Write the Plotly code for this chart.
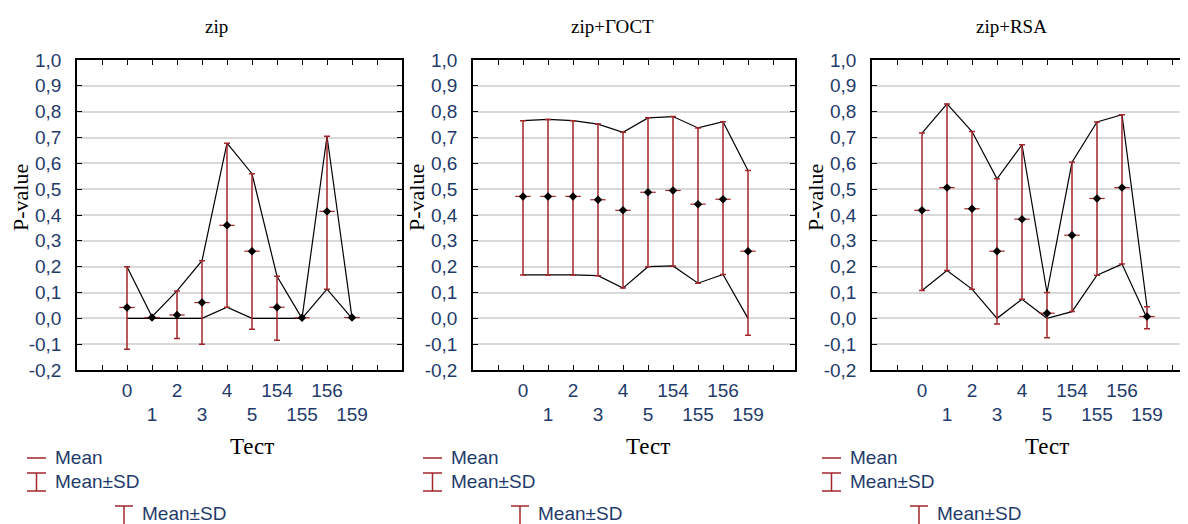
import plotly.graph_objects as go

# ---------------- data ----------------
tests = ["0", "1", "2", "3", "4", "5", "154", "155", "156", "159"]
panel_titles = ["zip", "zip+ГОСТ", "zip+RSA"]

zip_mean = [0.042, 0.003, 0.013, 0.061, 0.360, 0.260, 0.043, 0.002, 0.414, 0.003]
zip_hi = [0.200, 0.006, 0.106, 0.223, 0.678, 0.560, 0.163, 0.000, 0.705, 0.003]
zip_lo = [-0.120, 0.000, -0.078, -0.100, 0.043, -0.042, -0.085, 0.000, 0.113, 0.000]

gost_mean = [0.472, 0.472, 0.472, 0.459, 0.418, 0.488, 0.495, 0.442, 0.461, 0.260]
gost_hi = [0.765, 0.770, 0.765, 0.752, 0.720, 0.776, 0.781, 0.737, 0.761, 0.572]
gost_lo = [0.168, 0.168, 0.168, 0.165, 0.117, 0.200, 0.203, 0.136, 0.170, -0.065]

rsa_mean = [0.418, 0.506, 0.424, 0.260, 0.384, 0.020, 0.322, 0.464, 0.506, 0.007]
rsa_hi = [0.717, 0.830, 0.723, 0.540, 0.672, 0.100, 0.604, 0.760, 0.788, 0.045]
rsa_lo = [0.108, 0.185, 0.113, -0.022, 0.074, -0.075, 0.026, 0.167, 0.210, -0.040]

y_tickvals = [-0.2, -0.1, 0.0, 0.1, 0.2, 0.3, 0.4, 0.5, 0.6, 0.7, 0.8, 0.9, 1.0]
y_ticktext = ["-0,2", "-0,1", "0,0", "0,1", "0,2", "0,3", "0,4", "0,5",
              "0,6", "0,7", "0,8", "0,9", "1,0"]

x_title = "Тест"
y_title = "P-value"
legend_mean = "Mean"
legend_sd = "Mean±SD"

# ---------------- style ----------------
OFF = 8                      # page body margin of the browser
W, H = 1188 - OFF, 524 - OFF  # figure size actually visible
RED = "#a3262a"
NAVY = "#1f3b6b"
SANS = "Liberation Sans, Arial, sans-serif"
SERIF = "Liberation Serif, Times New Roman, serif"

panels = [
    (zip_mean, zip_hi, zip_lo),
    (gost_mean, gost_hi, gost_lo),
    (rsa_mean, rsa_hi, rsa_lo),
]
# plot-area pixel boxes in screenshot coordinates (left, right)
boxes = [(77, 402), (473, 795), (872, 1188)]
TOP, BOT = 60, 370
UNIT = 25.0


def px(x):
    return min(1.0, (x - OFF) / W)


def py(y):
    return 1 - (y - OFF) / H


fig = go.Figure()
idx = list(range(len(tests)))
x_tickvals = [-1] + idx + [len(tests)]
x_ticktext = [""] + [("<br>" + t if i % 2 else t) for i, t in enumerate(tests)] + [""]

annotations = []
shapes = []

for p, (mean, hi, lo) in enumerate(panels):
    n = p + 1
    xa = "x" if n == 1 else f"x{n}"
    ya = "y" if n == 1 else f"y{n}"
    lo_line = [max(v, 0.0) for v in lo]

    fig.add_trace(go.Scatter(x=idx, y=hi, mode="lines", xaxis=xa, yaxis=ya,
                             line=dict(color="black", width=1.2),
                             showlegend=False, hoverinfo="skip"))
    fig.add_trace(go.Scatter(x=idx, y=lo_line, mode="lines", xaxis=xa, yaxis=ya,
                             line=dict(color="black", width=1.2),
                             showlegend=False, hoverinfo="skip"))
    fig.add_trace(go.Scatter(
        x=idx, y=mean, mode="markers", xaxis=xa, yaxis=ya,
        marker=dict(symbol="line-ew", size=11, color=RED,
                    line=dict(color=RED, width=1.2)),
        error_y=dict(type="data", symmetric=False,
                     array=[h - m for h, m in zip(hi, mean)],
                     arrayminus=[m - l for m, l in zip(mean, lo)],
                     color=RED, thickness=1.5, width=3),
        showlegend=False, hoverinfo="skip"))
    fig.add_trace(go.Scatter(x=idx, y=mean, mode="markers", xaxis=xa, yaxis=ya,
                             marker=dict(symbol="diamond", size=6.5, color="black"),
                             showlegend=False, hoverinfo="skip"))

    left, right = boxes[p]
    x_end = -2 + (right - left) / UNIT
    last = (n == 3)
    fig.update_layout(**{
        ("xaxis" if n == 1 else f"xaxis{n}"): dict(
            domain=[px(left), px(right)], anchor=ya, range=[-2, x_end],
            tickvals=x_tickvals, ticktext=x_ticktext, tickangle=0,
            ticks="inside", ticklen=5, tickwidth=1, tickcolor="black",
            showline=True, linecolor="black", linewidth=1.5,
            mirror="ticks", showgrid=False, zeroline=False, automargin=False,
            tickfont=dict(family=SANS, size=19, color=NAVY),
            ticklabelstandoff=2, fixedrange=True),
        ("yaxis" if n == 1 else f"yaxis{n}"): dict(
            domain=[py(BOT), py(TOP)], anchor=xa, range=[-0.2, 1.0],
            tickvals=y_tickvals, ticktext=y_ticktext,
            ticks="inside", ticklen=5, tickwidth=1, tickcolor="black",
            showline=True, linecolor="black", linewidth=1.5,
            mirror=False if last else "ticks", automargin=False,
            showgrid=True, gridcolor="#d9d9d9", gridwidth=1.5, zeroline=False,
            tickfont=dict(family=SANS, size=19, color=NAVY),
            ticklabelstandoff=10, fixedrange=True),
    })

    # titles
    annotations.append(dict(x=px(left + 139), y=py(27), xref="paper", yref="paper",
                            text=panel_titles[p], showarrow=False,
                            font=dict(family=SERIF, size=19, color="black"),
                            xanchor="center", yanchor="middle"))
    annotations.append(dict(x=px(left + 175), y=py(446), xref="paper", yref="paper",
                            text=x_title, showarrow=False,
                            font=dict(family=SERIF, size=23, color="black"),
                            xanchor="center", yanchor="middle"))
    annotations.append(dict(x=px(left - 57), y=py(198), xref="paper", yref="paper",
                            text=y_title, showarrow=False, textangle=-90,
                            font=dict(family=SERIF, size=22, color="black"),
                            xanchor="center", yanchor="middle"))

    # legend
    lx = left - 50
    annotations.append(dict(x=px(lx + 26), y=py(457), xref="paper", yref="paper",
                            text=legend_mean, showarrow=False,
                            font=dict(family=SANS, size=19, color=NAVY),
                            xanchor="left", yanchor="middle"))
    annotations.append(dict(x=px(lx + 26), y=py(481), xref="paper", yref="paper",
                            text=legend_sd, showarrow=False,
                            font=dict(family=SANS, size=19, color=NAVY),
                            xanchor="left", yanchor="middle"))
    annotations.append(dict(x=px(lx + 113), y=py(513), xref="paper", yref="paper",
                            text=legend_sd, showarrow=False,
                            font=dict(family=SANS, size=19, color=NAVY),
                            xanchor="left", yanchor="middle"))
    ln = dict(color=RED, width=1.5)
    shapes += [
        dict(type="line", xref="paper", yref="paper",
             x0=px(lx), x1=px(lx + 19), y0=py(458), y1=py(458), line=ln),
        dict(type="line", xref="paper", yref="paper",
             x0=px(lx), x1=px(lx + 19), y0=py(473), y1=py(473), line=ln),
        dict(type="line", xref="paper", yref="paper",
             x0=px(lx), x1=px(lx + 19), y0=py(491), y1=py(491), line=ln),
        dict(type="line", xref="paper", yref="paper",
             x0=px(lx + 9.5), x1=px(lx + 9.5), y0=py(473), y1=py(491), line=ln),
        dict(type="line", xref="paper", yref="paper",
             x0=px(lx + 88), x1=px(lx + 106), y0=py(506), y1=py(506), line=ln),
        dict(type="line", xref="paper", yref="paper",
             x0=px(lx + 97), x1=px(lx + 97), y0=py(506), y1=py(524), line=ln),
    ]

fig.update_layout(
    width=W, height=H,
    margin=dict(l=0, r=0, t=0, b=0),
    paper_bgcolor="white", plot_bgcolor="white",
    annotations=annotations, shapes=shapes,
    showlegend=False,
)

fig.write_html("out.html", config={"displayModeBar": False})
